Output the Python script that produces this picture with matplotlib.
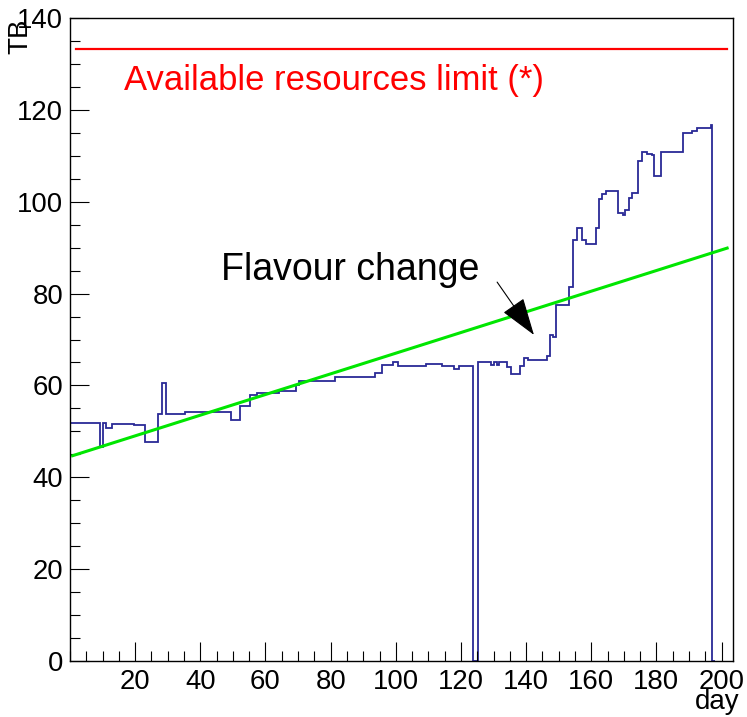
import matplotlib
matplotlib.use("Agg")
import matplotlib.pyplot as plt
from matplotlib.ticker import MultipleLocator
import numpy as np

plt.rcParams['font.family'] = ['Liberation Sans', 'DejaVu Sans']

# Histogram step edges (day) and levels (TB)
step_edges = [0.0, 9.2, 10.0, 11.0, 13.0, 19.6, 23.0, 27.1, 28.3, 29.4, 35.3, 49.3,
              52.2, 55.3, 57.5, 64.1, 69.5, 70.2, 81.3, 93.7, 95.8, 99.2, 100.6,
              109.4, 114.2, 117.9, 119.3, 123.6, 125.3, 129.2, 130.2, 131.0, 131.8,
              134.1, 135.3, 138.2, 139.4, 140.7, 146.4, 147.2, 148.4, 149.2, 153.3,
              154.3, 155.6, 157.3, 158.4, 161.5, 162.4, 163.2, 164.4, 168.3, 169.7,
              170.4, 171.7, 172.4, 174.3, 175.5, 177.2, 178.5, 179.2, 181.4, 188.2,
              190.8, 192.5, 196.6, 197.2, 198.0]
step_values = [51.9, 46.7, 51.9, 50.7, 51.6, 51.3, 47.6, 53.7, 60.6, 53.8, 54.3,
               52.4, 55.6, 57.9, 58.3, 58.8, 60.1, 61.0, 61.9, 62.8, 64.4, 65.0,
               64.3, 64.6, 64.3, 63.6, 64.3, 0.0, 65.2, 64.4, 65.2, 64.4, 65.2,
               64.1, 62.5, 64.2, 65.9, 65.6, 66.3, 71.0, 70.5, 77.5, 81.5, 91.7,
               94.2, 91.7, 90.7, 94.2, 100.5, 101.6, 102.4, 97.5, 97.0, 98.3, 100.7,
               102.0, 108.9, 110.9, 110.4, 110.2, 105.6, 110.9, 114.9, 115.3, 116.0,
               116.7, 0.0]

# Reference lines
limit_days = [1.8, 201.8]
limit_values = [133.2, 133.2]
trend_days = [0.8, 201.7]
trend_values = [44.7, 89.9]

x_ticks = [20, 40, 60, 80, 100, 120, 140, 160, 180, 200]
y_ticks = [0, 20, 40, 60, 80, 100, 120, 140]

fig = plt.figure(figsize=(7.47, 7.17), dpi=100)
ax = fig.add_axes([70/747, 56/717, 663/747, 643/717])

ax.stairs(step_values, step_edges, color='#2a2a96', lw=1.3, baseline=None)
ax.plot(limit_days, limit_values, color='#ff0000', lw=1.6)
ax.plot(trend_days, trend_values, color='#00e600', lw=2.2)

ax.text(16.6, 124.3, 'Available resources limit (*)', color='#ff0000',
        fontsize=24.9, ha='left', va='baseline')
ax.text(46.2, 83.0, 'Flavour change', color='black',
        fontsize=27.0, ha='left', va='baseline')
ax.annotate('', xy=(142.4, 71.0), xytext=(131.1, 82.5),
            arrowprops=dict(arrowstyle='-|>,head_length=2.4,head_width=0.8',
                            mutation_scale=10, color='black', lw=0.8,
                            shrinkA=0, shrinkB=0))

ax.set_xlim(0, 203.5)
ax.set_ylim(0, 140)
ax.set_xticks(x_ticks)
ax.set_yticks(y_ticks)
ax.xaxis.set_minor_locator(MultipleLocator(5))
ax.yaxis.set_minor_locator(MultipleLocator(5))
ax.tick_params(which='both', direction='in', top=False, right=False,
               labelsize=19.8, width=0.8)
ax.tick_params(which='major', length=14)
ax.tick_params(which='minor', length=7)
ax.tick_params(axis='x', pad=6)
ax.tick_params(axis='y', pad=5)
for s in ax.spines.values():
    s.set_linewidth(1.0)

fig.text(20/747, 1 - 18/717, 'TB', rotation=90, ha='center', va='top', fontsize=20)
fig.text(740/747, 8/717, 'day', ha='right', va='baseline', fontsize=20)

fig.savefig('out.png', dpi=100)
